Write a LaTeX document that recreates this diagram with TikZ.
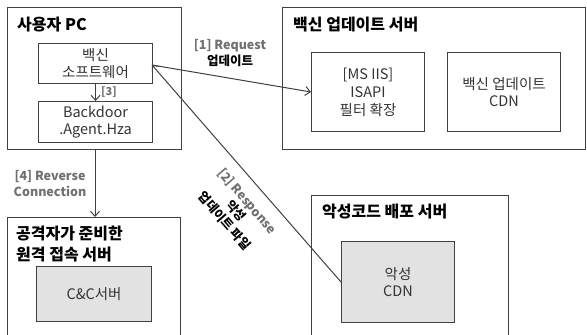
\documentclass[tikz,border=0pt]{standalone}
\usepackage{fontspec}
\setmainfont{Noto Sans CJK KR}
\usetikzlibrary{arrows.meta}
\definecolor{lbl}{HTML}{707070}
\definecolor{edge}{HTML}{404040}
\definecolor{cdnfill}{HTML}{E2E2E2}
\tikzset{
  outer/.style={draw=edge, line width=1.3pt, anchor=north west, inner sep=0pt},
  inner/.style={draw=edge, line width=1.1pt, anchor=north west, inner sep=0pt},
  gbox/.style={inner, fill=cdnfill},
  boxtext/.style={font=\fontsize{14.5}{17}\selectfont, text=black!80, align=center, inner sep=0pt},
  title/.style={font=\fontsize{16}{21}\bfseries\selectfont, anchor=west, inner sep=0pt, align=left},
  conlbl/.style={font=\fontsize{12.5}{16}\bfseries\selectfont, text=lbl, inner sep=0pt, align=center},
  conn/.style={draw=edge, line width=1pt, -{Straight Barb[length=5pt,width=9pt]}},
}
\begin{document}
\begin{tikzpicture}[x=1pt,y=-1pt]
\useasboundingbox (0,0) rectangle (587,335);
\clip (0,0) rectangle (587,335);
% user PC
\node[outer, minimum width=174pt, minimum height=142pt] (pc) at (7,7) {};
\node[title] (pct) at (17,25) {사용자 PC};
\node[inner, minimum width=114pt, minimum height=40pt] (sw) at (38,43) {};
\node[boxtext] (swt) at (sw.center) {백신\\소프트웨어};
\node[inner, minimum width=114pt, minimum height=41pt] (bd) at (38,101) {};
\node[boxtext] (bdt) at (bd.center) {Backdoor\\.Agent.Hza};
% vaccine update server
\node[outer, minimum width=303pt, minimum height=142pt] (vs) at (282,7) {};
\node[title] (vst) at (293,25) {백신 업데이트 서버};
\node[inner, minimum width=113pt, minimum height=79pt] (isapi) at (311,52) {};
\node[boxtext, font=\fontsize{14.5}{18}\selectfont] (isapit) at (isapi.center) {[MS IIS]\\ISAPI\\필터 확장};
\node[inner, minimum width=113pt, minimum height=79pt] (vcdn) at (447,52) {};
\node[boxtext] (vcdnt) at (vcdn.center) {백신 업데이트\\CDN};
% malicious distribution server
\node[outer, minimum width=197pt, minimum height=150pt] (ms) at (311,195) {};
\node[title] (mst) at (322,212) {악성코드 배포 서버};
\node[gbox, minimum width=113pt, minimum height=81pt] (mcdn) at (341,241) {};
\node[boxtext] (mcdnt) at (mcdn.center) {악성\\CDN};
% attacker server
\node[outer, minimum width=173pt, minimum height=130pt] (att) at (7,217) {};
\node[title, anchor=north west] (attt) at (16,226) {공격자가 준비한\\원격 접속 서버};
\node[gbox, minimum width=115pt, minimum height=55pt] (cc) at (36,266) {};
\node[boxtext] (cct) at (cc.center) {C\&C서버};
% connectors
\draw[conn] (sw.south) -- (bd.north);
\node[conlbl, anchor=west, font=\fontsize{11}{14}\bfseries\selectfont] (l3) at (101,92) {[3]};
\coordinate (pcb) at (95,149);
\coordinate (attn) at (95,217);
\draw[conn] (pcb) -- (attn);
\node[conlbl] (l4) at (50,184) {[4] Reverse\\Connection};
\coordinate (swe) at (152,65);
\coordinate (isw) at (311,92);
\coordinate (mcw) at (341,282);
\draw[conn] (swe) -- (isw);
\draw[conn] (mcw) -- (swe);
\node[conlbl] (l1) at (230,53) {[1] Request\\\textcolor{black}{업데이트}};
\node[conlbl, rotate=-49, font=\fontsize{12.5}{15}\bfseries\selectfont] (l2) at (236,211) {[2] Response\\\textcolor{black}{악성}\\\textcolor{black}{업데이트 파일}};
\end{tikzpicture}
\end{document}
